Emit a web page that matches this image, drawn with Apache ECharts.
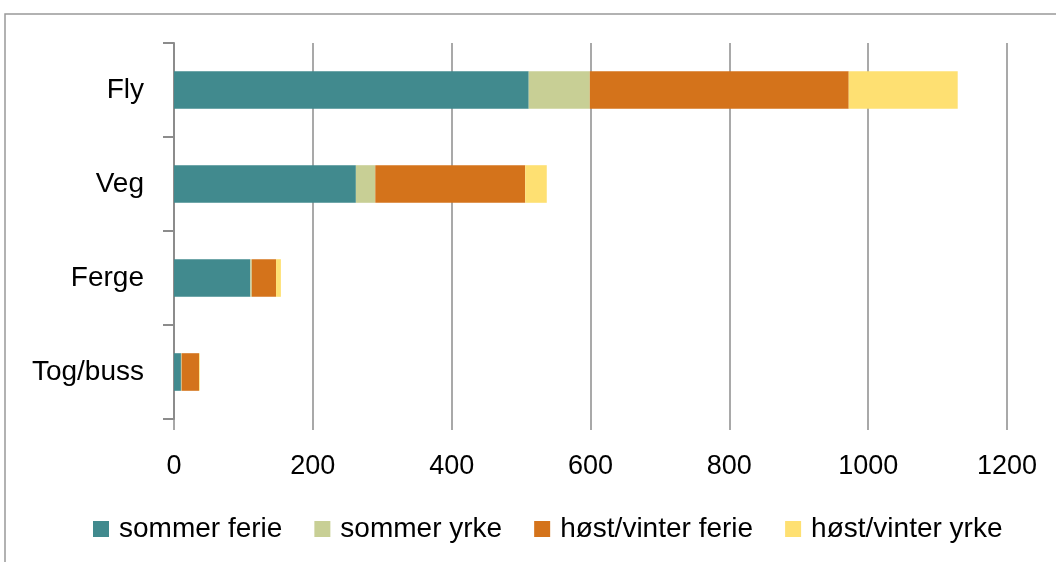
<!DOCTYPE html>
<html>
<head>
<meta charset="utf-8">
<script src="https://cdn.jsdelivr.net/npm/echarts@6/dist/echarts.min.js"></script>
<style>
html,body{margin:0;padding:0;background:#fff;}
#main{width:1056px;height:562px;}
</style>
</head>
<body>
<div id="main"></div>
<script>
// kategorier og verdier lest av figuren
var categories = ['Fly', 'Veg', 'Ferge', 'Tog/buss'];
var seriesNames = ['sommer ferie', 'sommer yrke', 'høst/vinter ferie', 'høst/vinter yrke'];
var sommerFerie = [511, 262, 110, 10];
var sommerYrke = [88, 28, 2, 1];
var hostFerie = [373, 216, 35, 25];
var hostYrke = [157, 31, 7, 1];
var xTicks = [0, 200, 400, 600, 800, 1000, 1200];
var colors = ['#418a8e', '#c8cf95', '#d4731b', '#fee072'];

var font = '"Liberation Sans", Arial, sans-serif';
var chart = echarts.init(document.getElementById('main'));
var values = [sommerFerie, sommerYrke, hostFerie, hostYrke];
var series = [];
for (var i = 0; i < seriesNames.length; i++) {
	series.push({
		name: seriesNames[i],
		type: 'bar',
		stack: 'total',
		barWidth: '40%',
		data: values[i],
		itemStyle: {color: colors[i]}
	});
}
var option = {
	animation: false,
	color: colors,
	graphic: [{
		type: 'rect',
		shape: {x: 5, y: 14, width: 1100, height: 600},
		style: {fill: 'none', stroke: '#999', lineWidth: 1.5},
		silent: true
	}],
	grid: {left: 174, right: 49, top: 43, bottom: 143},
	legend: {
		bottom: 14,
		left: 88,
		itemWidth: 16,
		itemHeight: 16,
		itemGap: 32,
		icon: 'rect',
		textStyle: {fontFamily: font, fontSize: 28, color: '#000', padding: [0, 0, 0, 5]},
		data: seriesNames
	},
	xAxis: {
		type: 'value',
		min: xTicks[0],
		max: xTicks[xTicks.length - 1],
		interval: 200,
		axisLine: {show: false},
		axisTick: {show: true, length: 11, lineStyle: {color: '#8c8c8c', width: 1.5}},
		splitLine: {show: true, lineStyle: {color: '#8c8c8c', width: 1.5}},
		axisLabel: {
			fontFamily: font, fontSize: 27, color: '#000', margin: 34,
			formatter: function (v) { return String(v); }
		}
	},
	yAxis: {
		type: 'category',
		inverse: true,
		data: categories,
		axisLine: {show: true, lineStyle: {color: '#8c8c8c', width: 2}},
		axisTick: {show: true, length: 11, lineStyle: {color: '#8c8c8c', width: 2}},
		axisLabel: {fontFamily: font, fontSize: 28, color: '#000', margin: 30}
	},
	series: series
};
chart.setOption(option);
</script>
</body>
</html>
